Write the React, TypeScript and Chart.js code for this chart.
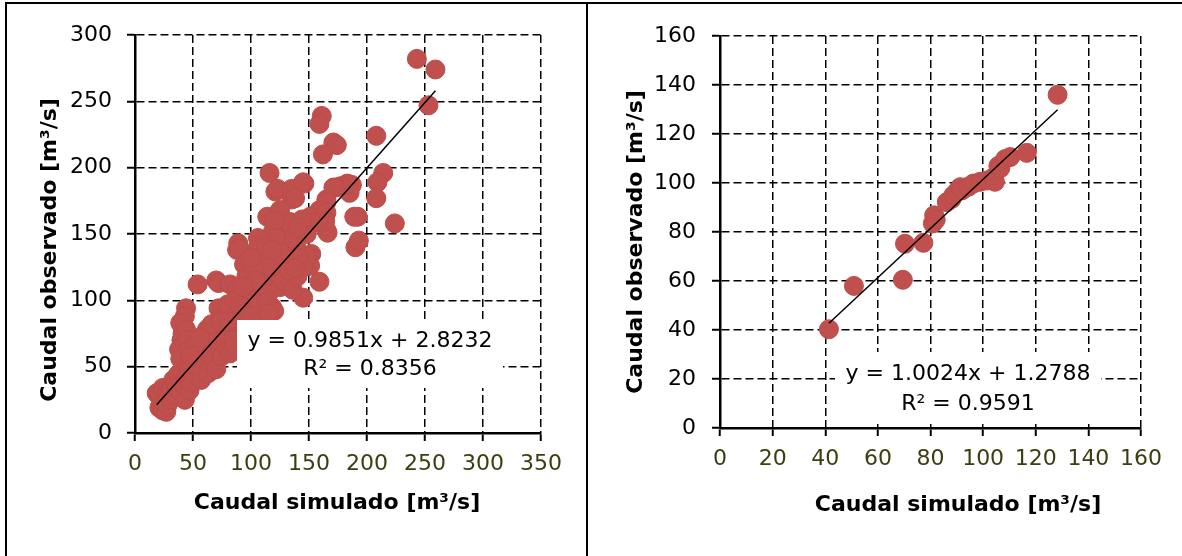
import React, { useEffect, useRef } from 'react';
import { Chart, registerables } from 'chart.js';

Chart.register(...registerables);

// ---------- DATA ----------
// Left panel: [simulated, observed] in m³/s
const leftPoints: [number, number][] = [
  // outliers / upper points
  [243, 282], [259, 274], [253, 247], [161, 239], [159, 233], [171, 219], [174, 217], [162, 210],
  [208, 224], [214, 196], [209, 189], [208, 177], [224, 158],
  // right side middle
  [192, 163], [190, 140], [193, 145], [189, 163], [185, 181], [187, 187], [183, 188], [177, 186],
  [173, 185], [171, 185], [165, 176], [165, 174], [159, 168], [151, 163], [165, 166], [165, 153],
  [166, 151], [164, 160], [157, 159], [153, 158], [148, 150], [152, 135], [151, 126],
  [148, 133], [159, 114], [145, 102],
  // upper middle
  [116, 196], [121, 182], [123, 184], [135, 184], [146, 188], [135, 176], [138, 177], [145, 189],
  [114, 163], [124, 166], [125, 168], [134, 159], [130, 152], [119, 152], [139, 147], [125, 143],
  [139, 140], [144, 161], [140, 155], [132, 145], [120, 160],
  // middle mass
  [89, 143], [88, 138], [90, 139], [94, 127], [106, 147], [106, 140], [110, 132], [122, 132],
  [134, 130], [122, 147], [96, 118], [109, 120], [122, 118], [100, 110], [105, 103], [110, 112],
  [115, 105], [118, 95], [112, 98], [125, 110], [128, 115], [136, 108], [140, 118], [133, 123],
  [145, 125], [117, 125], [102, 125], [98, 98], [104, 90], [110, 88], [120, 92], [99, 98],
  [94, 105], [92, 92], [113, 140], [127, 135], [141, 132], [118, 138], [100, 132], [104, 115],
  [138, 124],
  // row near 112
  [54, 112], [70, 115], [72, 113], [82, 112], [88, 108],
  // bump
  [72, 94], [73, 86], [82, 90], [80, 97], [86, 100], [90, 97], [93, 110],
  // left column
  [44, 94], [43, 88], [39, 83], [41, 75], [40, 70], [41, 66], [38, 63], [39, 56], [44, 78],
  [45, 70], [46, 62],
  // lower band
  [18.7, 30], [21, 19], [24, 17], [27, 16], [22, 26], [25, 23], [28, 21], [24, 34], [28, 30],
  [31, 25], [31, 33], [33, 40], [34, 28], [36, 35], [37, 44], [39, 31], [40, 38], [41, 46],
  [43, 25], [43, 35], [44, 42], [46, 49], [47, 32], [48, 38], [50, 45], [52, 52], [54, 60],
  [55, 48], [57, 40], [56, 55], [58, 66], [60, 58], [61, 50], [63, 45], [58, 72], [62, 78],
  [64, 68], [66, 62], [68, 55], [70, 48], [71, 72], [73, 65], [75, 58], [76, 80], [78, 72],
  [80, 64], [82, 60], [84, 78], [85, 70], [86, 66], [66, 82], [74, 84], [80, 84], [50, 52],
  [52, 66], [48, 58], [56, 72],
  // hidden under label
  [95, 80], [100, 88], [108, 84], [115, 90],
];

// Right panel: [simulated, observed]
const rightPoints: [number, number][] = [
  [41.4, 40.3], [50.9, 58], [69.5, 60.5], [70.3, 75.2], [77.3, 75.6], [80.9, 83.5], [81.4, 86.8],
  [82, 85], [86.2, 92.2], [88, 93.5], [88.7, 95], [90, 96.4], [91.3, 98.3], [92, 97], [94.4, 98.5],
  [96.3, 99.8], [98.9, 100.5], [101.4, 101], [103.9, 102.3], [104.5, 100.5], [105.8, 107],
  [106.5, 106], [108.4, 109.8], [110.3, 110.6], [116.6, 112.3], [128.3, 136],
];

const leftTrend = { slope: 0.9851, intercept: 2.8232, r2: '0.8356' };
const rightTrend = { slope: 1.0024, intercept: 1.2788, r2: '0.9591' };

const leftXTicks = { min: 0, max: 350, step: 50 };
const leftYTicks = { min: 0, max: 300, step: 50 };
const rightXTicks = { min: 0, max: 160, step: 20 };
const rightYTicks = { min: 0, max: 160, step: 20 };

const xTitle = 'Caudal simulado [m³/s]';
const yTitle = 'Caudal observado [m³/s]';

// ---------- STYLE ----------
const FONT = '"DejaVu Sans", "Liberation Sans", Arial, sans-serif';
const MARKER = '#C0504D';
const XTICK_COLOR = '#3D3D12';

type PanelCfg = {
  points: [number, number][];
  trend: { slope: number; intercept: number; r2: string };
  xt: { min: number; max: number; step: number };
  yt: { min: number; max: number; step: number };
  width: number;
  height: number;
  areaLeft: number;
  areaTop: number;
  areaRight: number;
  areaBottom: number;
  yTickPad: number;
  box: { x: number; y: number; w: number; h: number };
  eqX: number;
  eqY1: number;
  eqY2: number;
  xTitlePos: [number, number];
  yTitlePos: [number, number];
};

function fmtEq(t: { slope: number; intercept: number }) {
  return `y = ${t.slope.toFixed(4)}x + ${t.intercept.toFixed(4)}`;
}

function Panel({ cfg }: { cfg: PanelCfg }) {
  const ref = useRef<HTMLCanvasElement | null>(null);
  useEffect(() => {
    if (!ref.current) return;
    const xs = cfg.points.map((p) => p[0]);
    const minX = Math.min(...xs);
    const maxX = Math.max(...xs);
    const t = cfg.trend;
    const overlay = {
      id: 'overlay',
      afterDatasetsDraw(chart: any) {
        const ctx = chart.ctx as CanvasRenderingContext2D;
        ctx.save();
        ctx.fillStyle = '#ffffff';
        ctx.fillRect(cfg.box.x, cfg.box.y, cfg.box.w, cfg.box.h);
        ctx.fillStyle = '#000000';
        ctx.font = `22px ${FONT}`;
        ctx.textAlign = 'center';
        ctx.textBaseline = 'middle';
        ctx.fillText(fmtEq(t), cfg.eqX, cfg.eqY1);
        ctx.fillText(`R² = ${t.r2}`, cfg.eqX, cfg.eqY2);
        ctx.restore();
      },
      afterDraw(chart: any) {
        const ctx = chart.ctx as CanvasRenderingContext2D;
        ctx.save();
        ctx.fillStyle = '#000000';
        ctx.font = `bold 22px ${FONT}`;
        ctx.textAlign = 'center';
        ctx.textBaseline = 'middle';
        ctx.fillText(xTitle, cfg.xTitlePos[0], cfg.xTitlePos[1]);
        ctx.translate(cfg.yTitlePos[0], cfg.yTitlePos[1]);
        ctx.rotate(-Math.PI / 2);
        ctx.fillText(yTitle, 0, 0);
        ctx.restore();
      },
    };
    const chart = new Chart(ref.current, {
      type: 'scatter',
      data: {
        datasets: [
          {
            type: 'line',
            data: [
              { x: minX, y: t.slope * minX + t.intercept },
              { x: maxX, y: t.slope * maxX + t.intercept },
            ],
            borderColor: '#000000',
            borderWidth: 1.5,
            pointRadius: 0,
            fill: false,
            order: 0,
          } as any,
          {
            type: 'scatter',
            data: cfg.points.map((p) => ({ x: p[0], y: p[1] })),
            backgroundColor: MARKER,
            borderColor: '#BC4C49',
            borderWidth: 1,
            pointRadius: 9.5,
            pointHoverRadius: 9.5,
            order: 1,
          },
        ],
      },
      options: {
        responsive: false,
        animation: false,
        events: [],
        layout: {
          padding: {
            left: 0,
            top: cfg.areaTop,
            right: cfg.width - cfg.areaRight,
            bottom: 0,
          },
        },
        plugins: { legend: { display: false }, tooltip: { enabled: false } },
        scales: {
          x: {
            type: 'linear',
            min: cfg.xt.min,
            max: cfg.xt.max,
            ticks: {
              stepSize: cfg.xt.step,
              color: XTICK_COLOR,
              font: { size: 22, family: FONT },
              padding: 10,
              maxRotation: 0,
              autoSkip: false,
            },
            grid: { color: '#000', lineWidth: 1.5, tickLength: 8, tickWidth: 2, tickColor: '#000', tickBorderDash: [] } as any,
            border: { display: true, color: '#000', width: 2.5, dash: [8, 4] },
            afterFit: (s: any) => {
              s.height = cfg.height - cfg.areaBottom;
            },
          },
          y: {
            type: 'linear',
            min: cfg.yt.min,
            max: cfg.yt.max,
            ticks: {
              stepSize: cfg.yt.step,
              color: '#000',
              font: { size: 22, family: FONT },
              padding: cfg.yTickPad,
              autoSkip: false,
            },
            grid: { color: '#000', lineWidth: 1.5, tickLength: 8, tickWidth: 2, tickColor: '#000', tickBorderDash: [] } as any,
            border: { display: true, color: '#000', width: 2.5, dash: [8, 4] },
            afterFit: (s: any) => {
              s.width = cfg.areaLeft;
            },
          },
        },
      },
      plugins: [overlay],
    } as any);
    return () => chart.destroy();
  }, [cfg]);
  return (
    <canvas
      ref={ref}
      width={cfg.width}
      height={cfg.height}
      style={{ width: cfg.width, height: cfg.height, display: 'block' }}
    />
  );
}

const leftCfg: PanelCfg = {
  points: leftPoints,
  trend: leftTrend,
  xt: leftXTicks,
  yt: leftYTicks,
  width: 578,
  height: 552,
  areaLeft: 128,
  areaTop: 31,
  areaRight: 534,
  areaBottom: 429,
  yTickPad: 15,
  box: { x: 230, y: 316, w: 266, h: 68 },
  eqX: 363,
  eqY1: 337,
  eqY2: 365,
  xTitlePos: [330, 499],
  yTitlePos: [43.5, 246],
};

const rightCfg: PanelCfg = {
  points: rightPoints,
  trend: rightTrend,
  xt: rightXTicks,
  yt: rightYTicks,
  width: 593,
  height: 552,
  areaLeft: 131,
  areaTop: 32,
  areaRight: 552,
  areaBottom: 424,
  yTickPad: 16,
  box: { x: 246, y: 348, w: 266, h: 72 },
  eqX: 379,
  eqY1: 370,
  eqY2: 400,
  xTitlePos: [369, 501],
  yTitlePos: [47, 238],
};

export default function App() {
  return (
    <div
      style={{
        position: 'fixed',
        left: 0,
        top: 0,
        width: 1182,
        height: 556,
        background: '#fff',
        overflow: 'hidden',
      }}
    >
      <div style={{ position: 'absolute', left: 5, top: 2, width: 1177, height: 2, background: '#000' }} />
      <div style={{ position: 'absolute', left: 5, top: 2, width: 2, height: 554, background: '#000' }} />
      <div style={{ position: 'absolute', left: 586, top: 2, width: 2, height: 554, background: '#000' }} />
      <div style={{ position: 'absolute', left: 7, top: 4 }}>
        <Panel cfg={leftCfg} />
      </div>
      <div style={{ position: 'absolute', left: 589, top: 4 }}>
        <Panel cfg={rightCfg} />
      </div>
    </div>
  );
}
